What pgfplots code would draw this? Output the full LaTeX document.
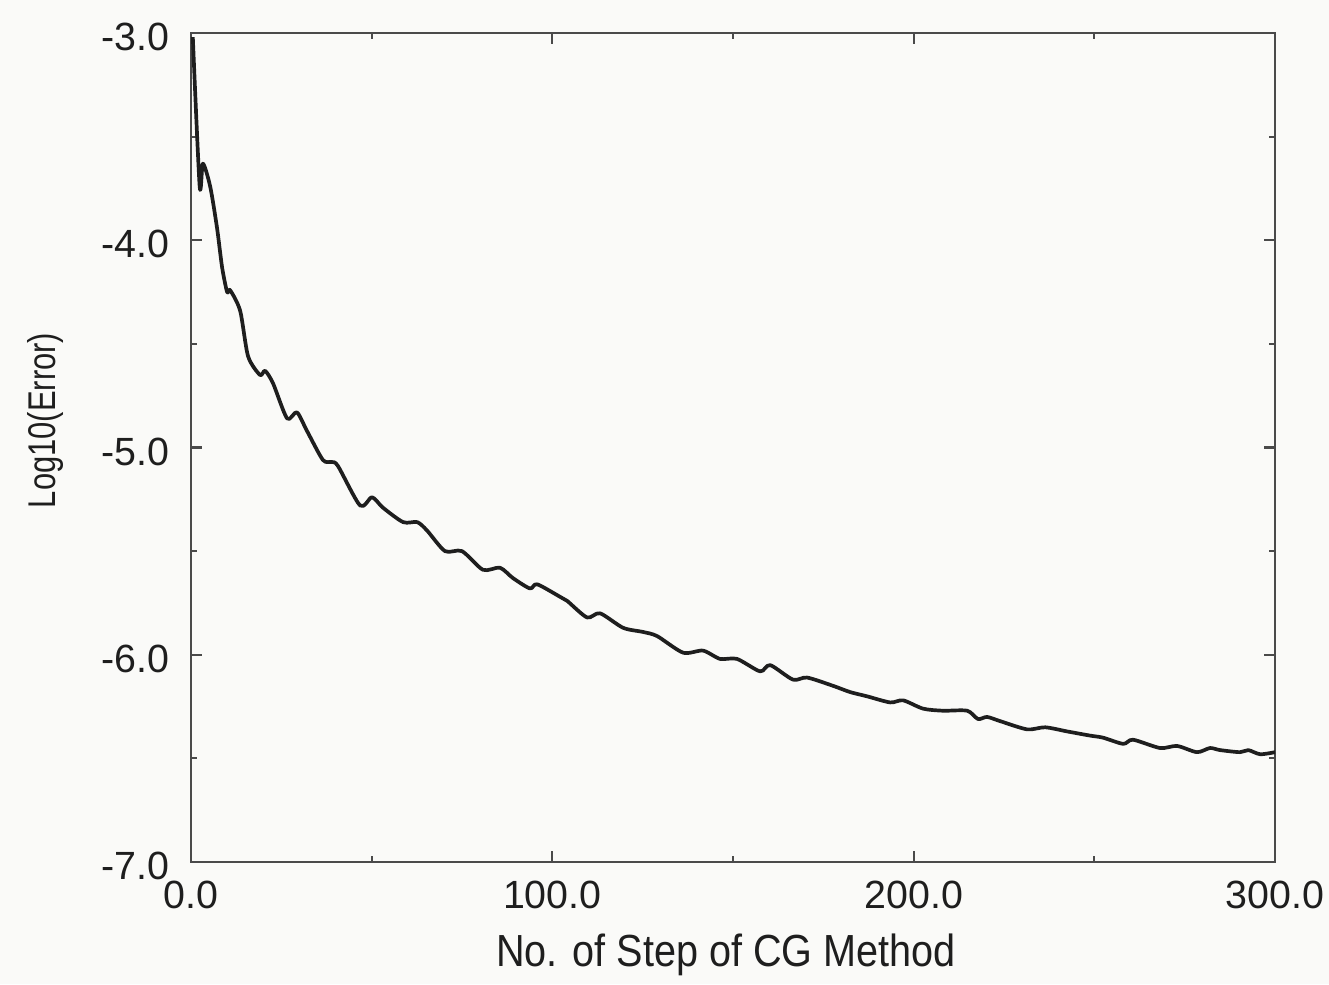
\documentclass[border=0pt]{standalone}
\usepackage{fontspec}
\setmainfont{Liberation Sans}
\newfontfamily\labelfont[FakeStretch=0.88]{Liberation Sans}
\newfontfamily\ylabelfont[FakeStretch=0.8]{Liberation Sans}
\usepackage{xcolor}
\usepackage{pgfplots}
\pgfplotsset{compat=1.18}
\definecolor{paper}{HTML}{FAFAF8}
\definecolor{ink}{HTML}{1E1E1E}
\definecolor{frame}{HTML}{4A4A4A}

\pgfplotstableread{
step  logerr
0.5   -3.02
2.4   -3.74
3.3   -3.63
5.3   -3.74
7.2   -3.94
8.6   -4.13
10.0  -4.25
10.8  -4.24
13.6  -4.34
15.8  -4.56
19.1  -4.65
20.5  -4.63
22.7  -4.69
26.6  -4.86
29.3  -4.83
32.1  -4.92
36.5  -5.06
39.0  -5.07
40.7  -5.09
46.8  -5.28
50.1  -5.24
53.1  -5.29
58.7  -5.36
62.6  -5.36
65.3  -5.40
70.3  -5.50
75.0  -5.50
80.8  -5.59
85.5  -5.58
89.1  -5.63
93.8  -5.68
95.8  -5.66
102.1 -5.72
104.1 -5.74
109.6 -5.82
113.2 -5.80
119.6 -5.87
125.1 -5.89
129.0 -5.91
136.2 -5.99
141.7 -5.98
146.4 -6.02
151.1 -6.02
157.5 -6.08
160.3 -6.05
166.6 -6.12
170.5 -6.11
177.7 -6.15
182.4 -6.18
187.0 -6.20
193.5 -6.23
197.1 -6.22
202.6 -6.26
208.1 -6.27
214.8 -6.27
217.8 -6.31
220.3 -6.30
223.9 -6.32
231.4 -6.36
236.4 -6.35
242.5 -6.37
248.8 -6.39
252.4 -6.40
258.0 -6.43
260.7 -6.41
268.2 -6.45
272.9 -6.44
278.4 -6.47
282.0 -6.45
284.8 -6.46
290.3 -6.47
292.6 -6.46
295.9 -6.48
300.0 -6.47
}\cgdata

\begin{document}
\begin{tikzpicture}
% paper background, same size as the page
\fill[paper] (-19.1mm,-12.2mm) rectangle (113.8mm,86.2mm);
\begin{axis}[
  at={(0,0)}, anchor=south west,
  scale only axis, width=108.4mm, height=82.9mm,
  xmin=0, xmax=300, ymin=-7, ymax=-3,
  xtick={0,100,200,300}, minor xtick={50,150,250},
  ytick={-7,-6,-5,-4,-3}, minor ytick={-6.5,-5.5,-4.5,-3.5},
  xticklabels={0.0,100.0,200.0,300.0},
  yticklabels={-7.0,-6.0,-5.0,-4.0,-3.0},
  tick align=inside,
  major tick length=1.1mm, minor tick length=0.6mm,
  tick style={color=frame, line width=0.6pt},
  axis line style={color=frame, line width=0.7pt},
  tick label style={font=\fontsize{11.2}{13}\selectfont, color=ink},
  yticklabel style={inner sep=0pt, anchor=east, xshift=-2.1mm, yshift=-0.4mm},
  xticklabel style={inner sep=0pt, anchor=north, yshift=-1.8mm},
  xlabel={No. of Step of CG Method},
  ylabel={Log10(Error)},
  xlabel style={font=\labelfont\fontsize{12.8}{15}\selectfont, color=ink,
    at={(axis description cs:0.4935,-0.1122)}, anchor=center},
  ylabel style={font=\ylabelfont\fontsize{11}{13}\selectfont, color=ink,
    at={(axis description cs:-0.1338,0.5326)}, anchor=center},
]
\addplot[color=ink, line width=1.05pt, line join=round, mark=none,
  smooth, tension=0.45]
  table[x=step, y=logerr] {\cgdata};
\end{axis}
\pgfresetboundingbox
\path (-19.1mm,-12.2mm) rectangle (113.8mm,86.2mm);
\end{tikzpicture}
\end{document}
